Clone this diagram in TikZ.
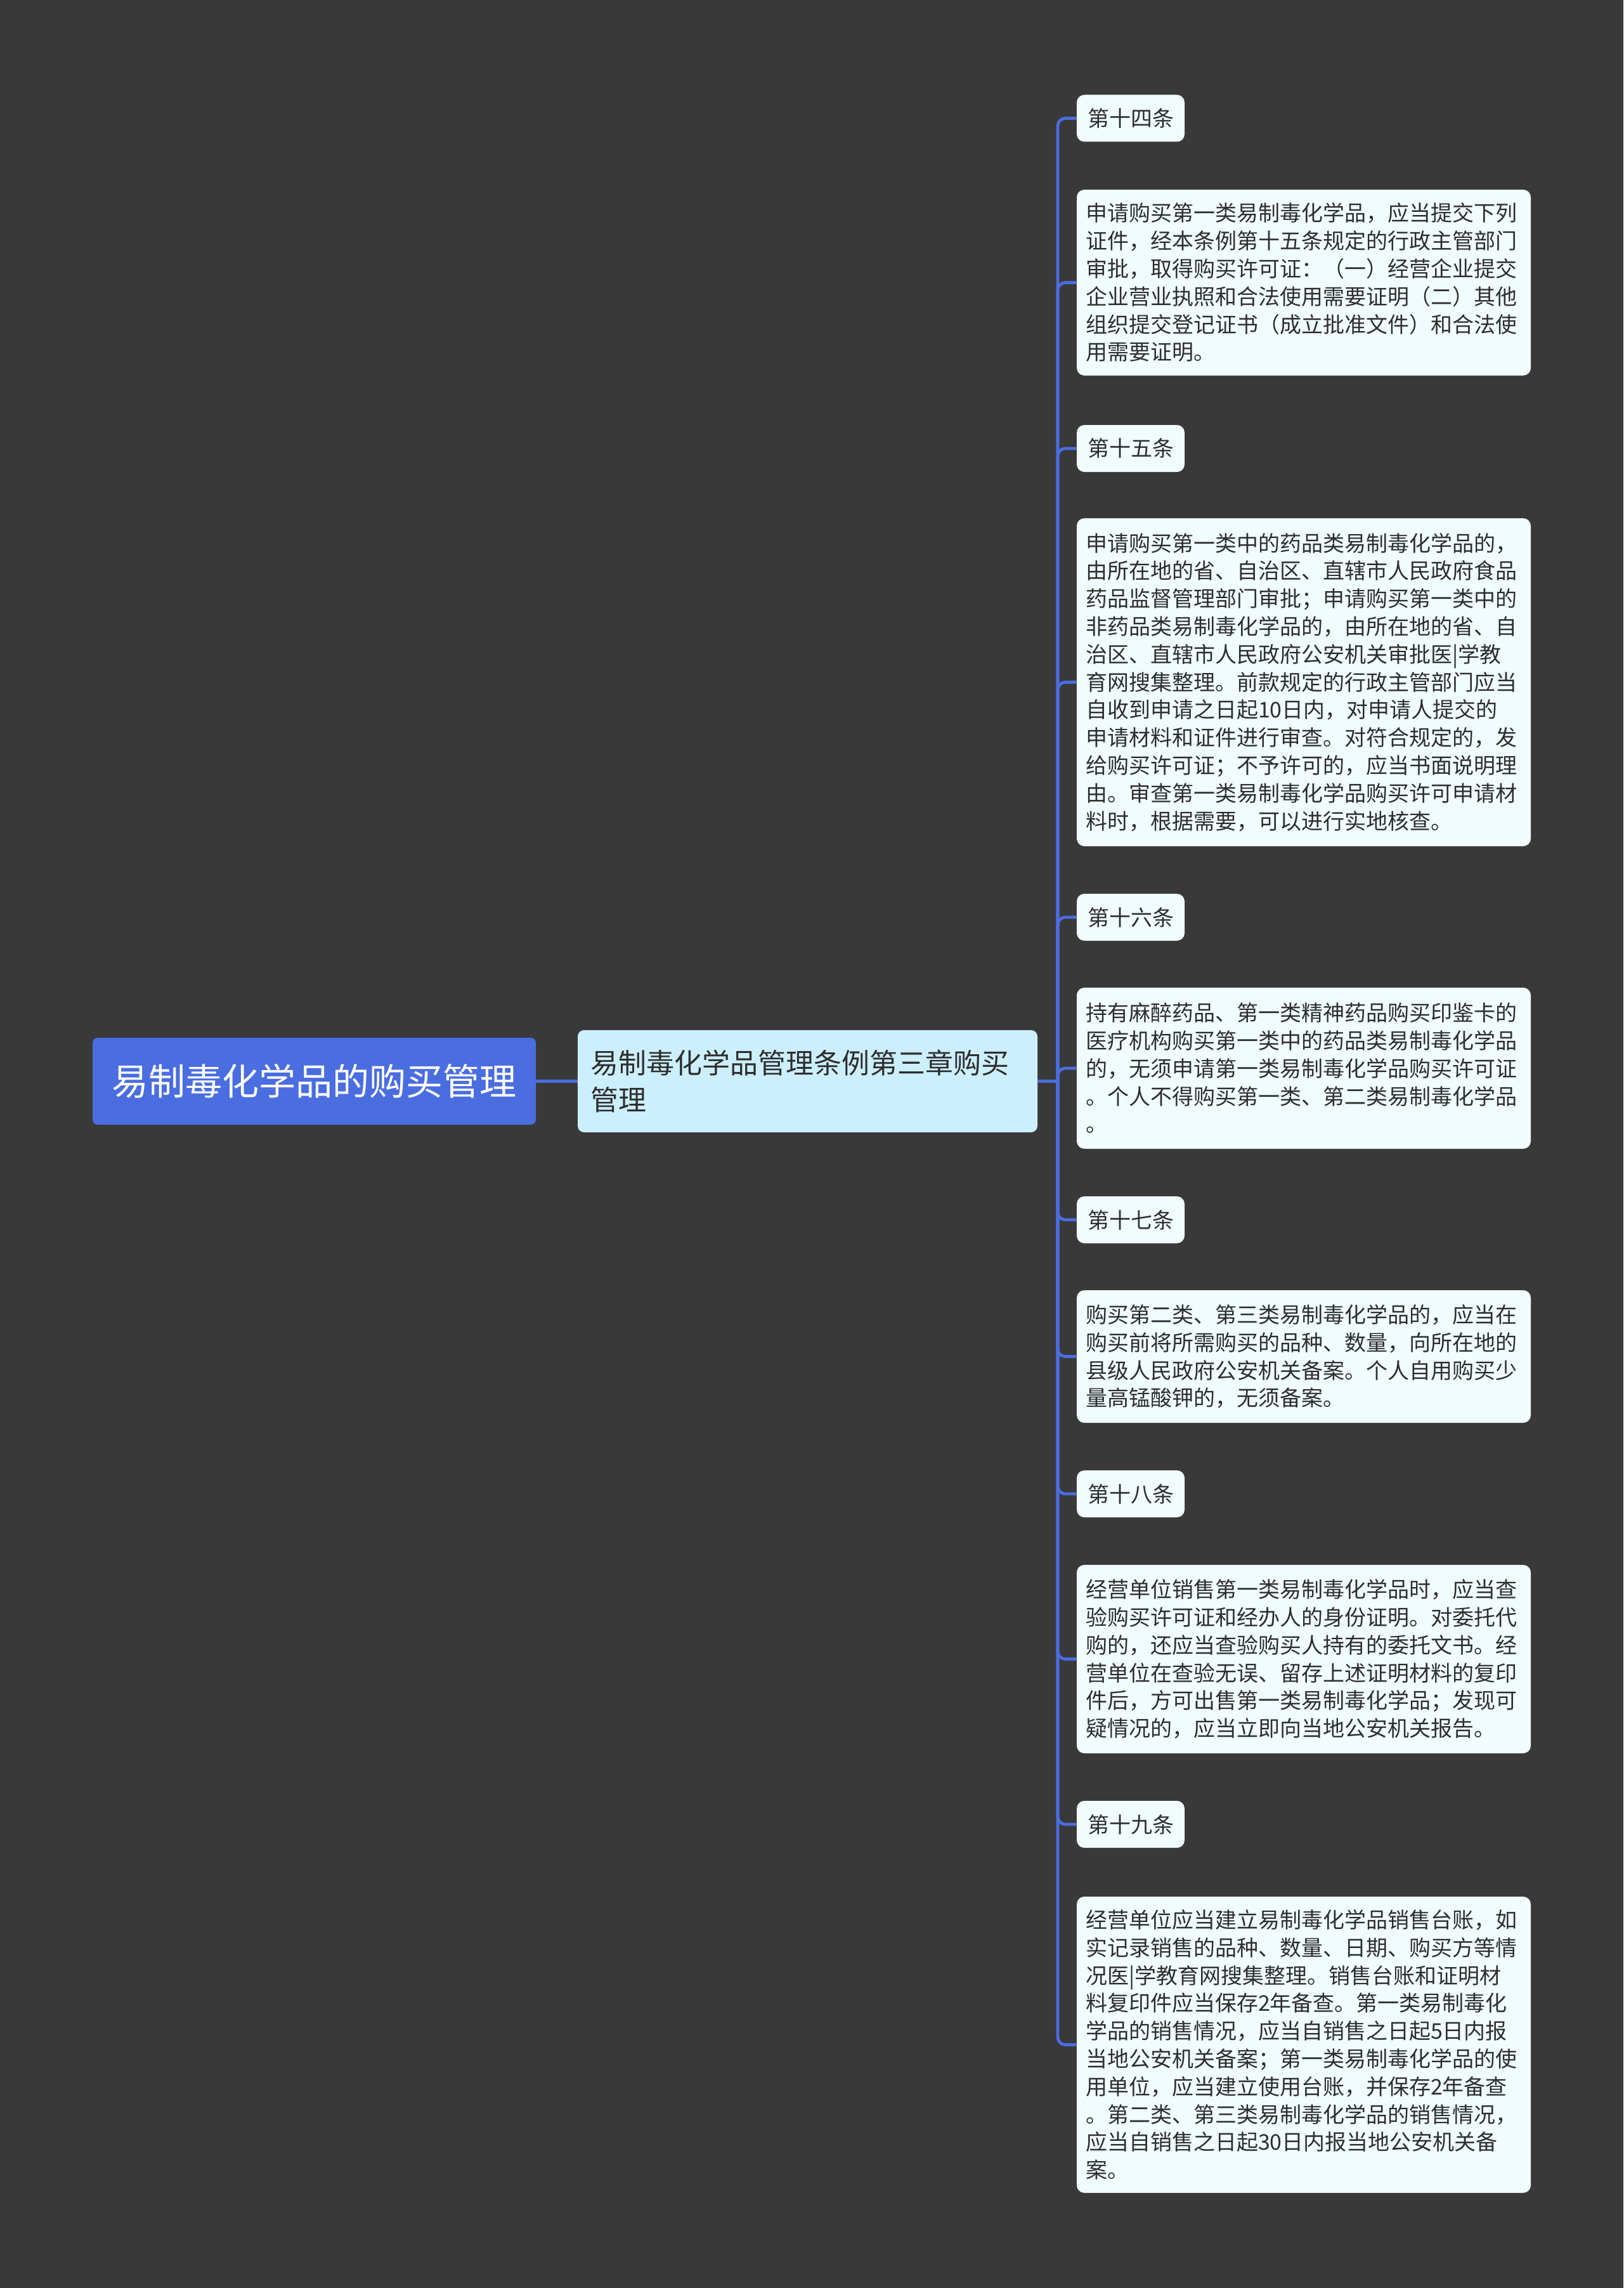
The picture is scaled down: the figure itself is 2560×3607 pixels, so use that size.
\documentclass[tikz,border=0pt]{standalone}
\usepackage{fontspec}
\setmainfont{Noto Sans CJK SC}
\usepackage{xcolor}
\definecolor{canvas}{HTML}{3A393A}
\definecolor{root blue}{HTML}{4A6DE0}
\definecolor{topic fill}{HTML}{CCEFFD}
\definecolor{leaf fill}{HTML}{F0FCFD}
\definecolor{leaf ink}{HTML}{2E2E2E}
\colorlet{link line}{root blue}
\def\leaffont{\fontsize{17pt}{21.9pt}\selectfont}
\tikzset{root/.style={fill=root blue, text=white, rounded corners=4pt, inner sep=0pt,
        minimum width=349.5pt, minimum height=68.5pt, font=\fontsize{29pt}{36pt}\selectfont},
    topic/.style={fill=topic fill, text=leaf ink, rounded corners=5pt, inner xsep=10pt,
        minimum width=362.5pt, minimum height=80.5pt, text width=342.5pt, align=left,
        font=\fontsize{22pt}{28.6pt}\selectfont},
    article/.style={fill=leaf fill, text=leaf ink, rounded corners=6pt, inner sep=0pt,
        minimum width=85pt, minimum height=37pt, font=\leaffont},
    clause/.style={fill=leaf fill, text=leaf ink, rounded corners=6pt, inner xsep=7pt,
        minimum width=358pt, text width=344pt, align=left, font=\leaffont},
    link/.style={draw=link line, line width=2.4pt}}

\begin{document}
\begin{tikzpicture}[x=0.5pt, y=-0.5pt]
    \useasboundingbox[fill=canvas] (0,0) rectangle (2560,3607);
    \node[root]  (root)  at (495.5,1704.5) {易制毒化学品的购买管理};
    \node[topic] (topic) at (1273.5,1704.5) {易制毒化学品管理条例第三章购买\\管理};
    \coordinate (fork) at (1668,1704.5);
    % article headings
    \foreach \name/\ypos/\txt in {a14/186.5/第十四条, a15/707/第十五条, a16/1446/第十六条,
        a17/1923/第十七条, a18/2355/第十八条, a19/2876/第十九条}
        \node[article] (\name) at (1783,\ypos) {\txt};
    % article texts
    \node[clause, minimum height=146.5pt] (c14) at (2056,445.5) {申请购买第一类易制毒化学品，应当提交下列\\证件，经本条例第十五条规定的行政主管部门\\审批，取得购买许可证：（一）经营企业提交\\企业营业执照和合法使用需要证明（二）其他\\组织提交登记证书（成立批准文件）和合法使\\用需要证明。};
    \node[clause, minimum height=258.5pt] (c15) at (2056,1075.5) {申请购买第一类中的药品类易制毒化学品的，\\由所在地的省、自治区、直辖市人民政府食品\\药品监督管理部门审批；申请购买第一类中的\\非药品类易制毒化学品的，由所在地的省、自\\治区、直辖市人民政府公安机关审批医|学教\\育网搜集整理。前款规定的行政主管部门应当\\自收到申请之日起10日内，对申请人提交的\\申请材料和证件进行审查。对符合规定的，发\\给购买许可证；不予许可的，应当书面说明理\\由。审查第一类易制毒化学品购买许可申请材\\料时，根据需要，可以进行实地核查。};
    \node[clause, minimum height=127pt] (c16) at (2056,1684) {持有麻醉药品、第一类精神药品购买印鉴卡的\\医疗机构购买第一类中的药品类易制毒化学品\\的，无须申请第一类易制毒化学品购买许可证\\。个人不得购买第一类、第二类易制毒化学品\\。};
    \node[clause, minimum height=104.5pt] (c17) at (2056,2138.5) {购买第二类、第三类易制毒化学品的，应当在\\购买前将所需购买的品种、数量，向所在地的\\县级人民政府公安机关备案。个人自用购买少\\量高锰酸钾的，无须备案。};
    \node[clause, minimum height=148.5pt] (c18) at (2056,2615.5) {经营单位销售第一类易制毒化学品时，应当查\\验购买许可证和经办人的身份证明。对委托代\\购的，还应当查验购买人持有的委托文书。经\\营单位在查验无误、留存上述证明材料的复印\\件后，方可出售第一类易制毒化学品；发现可\\疑情况的，应当立即向当地公安机关报告。};
    \node[clause, minimum height=233.5pt] (c19) at (2056,3223.5) {经营单位应当建立易制毒化学品销售台账，如\\实记录销售的品种、数量、日期、购买方等情\\况医|学教育网搜集整理。销售台账和证明材\\料复印件应当保存2年备查。第一类易制毒化\\学品的销售情况，应当自销售之日起5日内报\\当地公安机关备案；第一类易制毒化学品的使\\用单位，应当建立使用台账，并保存2年备查\\。第二类、第三类易制毒化学品的销售情况，\\应当自销售之日起30日内报当地公安机关备\\案。};
    \draw[link] (root) -- (topic);
    \draw[link] (topic.east) -- (fork);
    \foreach \name in {a14,c14,a15,c15,a16,c16,a17,c17,a18,c18,a19,c19}
        \draw[link, rounded corners=6pt] (fork) |- (\name.west);
\end{tikzpicture}
\end{document}
